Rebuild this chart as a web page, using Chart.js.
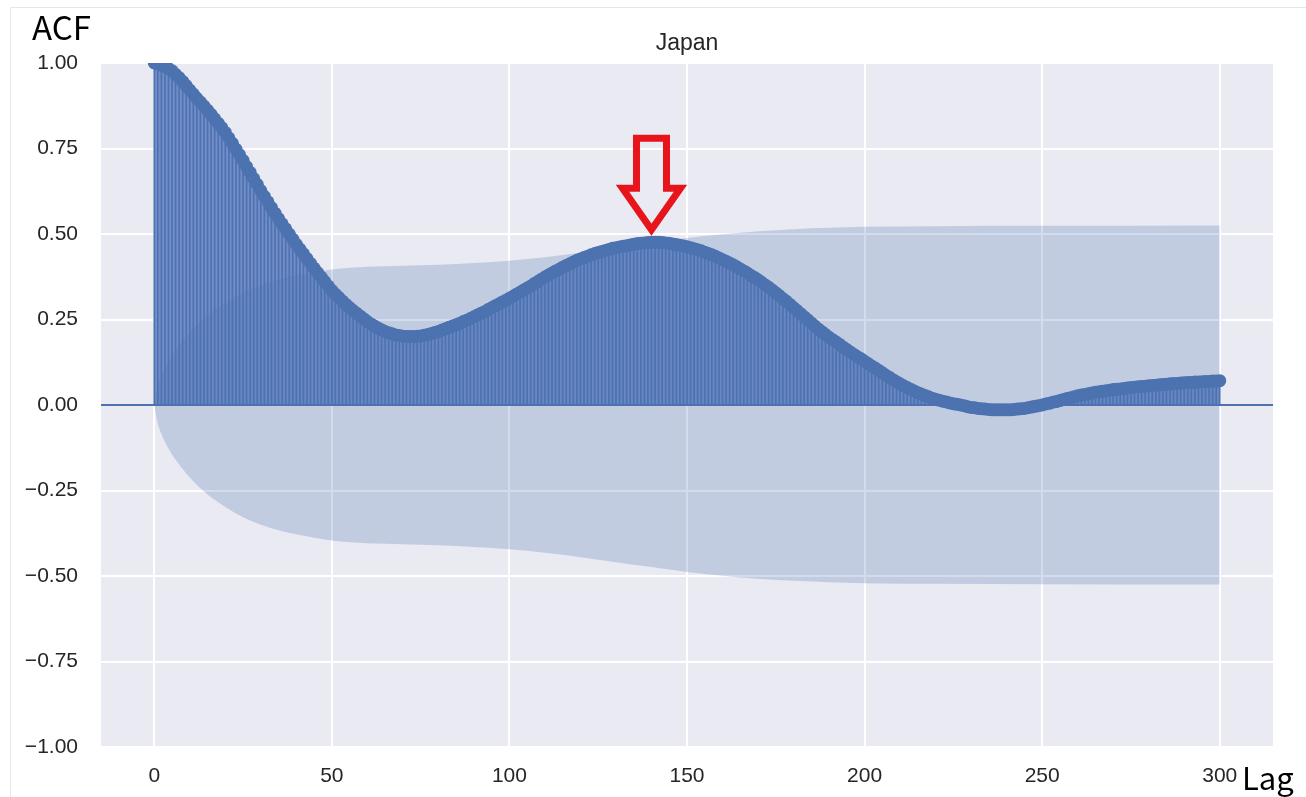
<!DOCTYPE html>
<html>
<head>
<meta charset="utf-8">
<script src="https://cdn.jsdelivr.net/npm/chart.js@4.4.1/dist/chart.umd.min.js"></script>
<style>
  html, body { margin: 0; padding: 0; background: #ffffff; }
  canvas { display: block; }
</style>
</head>
<body>
<canvas id="acf" width="1306" height="797"></canvas>
<script>
// Autocorrelation of the Japan series, lags 0..300
const lags = Array.from({ length: 301 }, (_, i) => i);

const acfValues = [
  1.000, 0.998, 0.994, 0.989, 0.984, 0.977,
  0.967, 0.957, 0.946, 0.934, 0.921,
  0.909, 0.897, 0.886, 0.874, 0.862,
  0.850, 0.837, 0.824, 0.811, 0.797,
  0.781, 0.765, 0.748, 0.732, 0.715,
  0.697, 0.680, 0.662, 0.645, 0.627,
  0.610, 0.594, 0.577, 0.561, 0.545,
  0.530, 0.515, 0.500, 0.485, 0.470,
  0.456, 0.442, 0.428, 0.414, 0.400,
  0.387, 0.374, 0.361, 0.348, 0.335,
  0.324, 0.314, 0.304, 0.294, 0.285,
  0.276, 0.268, 0.260, 0.252, 0.244,
  0.237, 0.231, 0.225, 0.220, 0.215,
  0.211, 0.208, 0.205, 0.203, 0.201,
  0.200, 0.200, 0.200, 0.201, 0.202,
  0.204, 0.206, 0.209, 0.212, 0.215,
  0.219, 0.223, 0.227, 0.231, 0.235,
  0.239, 0.244, 0.248, 0.253, 0.258,
  0.263, 0.268, 0.273, 0.279, 0.284,
  0.290, 0.295, 0.301, 0.306, 0.312,
  0.318, 0.324, 0.330, 0.336, 0.342,
  0.348, 0.355, 0.361, 0.368, 0.374,
  0.380, 0.386, 0.392, 0.397, 0.403,
  0.408, 0.413, 0.418, 0.423, 0.427,
  0.431, 0.435, 0.439, 0.443, 0.446,
  0.449, 0.452, 0.455, 0.458, 0.460,
  0.462, 0.464, 0.466, 0.468, 0.470,
  0.472, 0.473, 0.474, 0.475, 0.476,
  0.476, 0.476, 0.475, 0.474, 0.473,
  0.471, 0.469, 0.467, 0.465, 0.463,
  0.460, 0.457, 0.454, 0.451, 0.447,
  0.443, 0.439, 0.435, 0.430, 0.425,
  0.420, 0.415, 0.410, 0.404, 0.398,
  0.392, 0.386, 0.379, 0.373, 0.366,
  0.359, 0.351, 0.344, 0.336, 0.328,
  0.320, 0.311, 0.303, 0.294, 0.285,
  0.276, 0.267, 0.258, 0.249, 0.240,
  0.231, 0.222, 0.214, 0.206, 0.198,
  0.191, 0.184, 0.177, 0.169, 0.162,
  0.155, 0.148, 0.141, 0.135, 0.128,
  0.121, 0.114, 0.108, 0.101, 0.094,
  0.087, 0.081, 0.074, 0.068, 0.062,
  0.056, 0.051, 0.046, 0.041, 0.036,
  0.032, 0.028, 0.024, 0.020, 0.017,
  0.014, 0.011, 0.009, 0.006, 0.004,
  0.002, 0.000, -0.002, -0.005, -0.007,
  -0.008, -0.010, -0.011, -0.012, -0.013,
  -0.014, -0.014, -0.014, -0.014, -0.014,
  -0.014, -0.013, -0.012, -0.011, -0.010,
  -0.008, -0.006, -0.004, -0.002, 0.000,
  0.003, 0.005, 0.008, 0.010, 0.013,
  0.016, 0.019, 0.021, 0.024, 0.027,
  0.029, 0.031, 0.033, 0.035, 0.037,
  0.039, 0.040, 0.042, 0.043, 0.045,
  0.046, 0.047, 0.048, 0.050, 0.051,
  0.052, 0.053, 0.054, 0.055, 0.056,
  0.057, 0.058, 0.059, 0.060, 0.061,
  0.062, 0.063, 0.063, 0.064, 0.065,
  0.066, 0.066, 0.067, 0.067, 0.068,
  0.069, 0.069, 0.070, 0.070, 0.071
];

// 95% confidence band (Bartlett), centred on zero
const bandLags  = [0, 1, 2, 3, 4, 5, 6, 8, 10, 12, 15, 20, 25, 30, 35, 40, 45, 50, 55, 60,
                   70, 80, 90, 100, 110, 120, 130, 140, 150, 160, 170, 180, 190, 200, 220, 250, 300];
const bandUpper = [0, 0.055, 0.085, 0.108, 0.127, 0.145, 0.160, 0.187, 0.212, 0.234, 0.262, 0.298,
                   0.328, 0.350, 0.366, 0.378, 0.388, 0.396, 0.401, 0.404, 0.407, 0.410, 0.415,
                   0.422, 0.432, 0.445, 0.460, 0.474, 0.488, 0.499, 0.508, 0.514, 0.518, 0.521,
                   0.523, 0.524, 0.525];
const bandLower = [0, -0.055, -0.085, -0.108, -0.127, -0.145, -0.160, -0.187, -0.212, -0.234, -0.262, -0.298,
                   -0.328, -0.350, -0.366, -0.378, -0.388, -0.396, -0.401, -0.404, -0.407, -0.410, -0.415,
                   -0.422, -0.432, -0.445, -0.460, -0.474, -0.488, -0.499, -0.508, -0.514, -0.518, -0.521,
                   -0.523, -0.524, -0.525];

const xTickValues = [0, 50, 100, 150, 200, 250, 300];
const yTickValues = [-1.00, -0.75, -0.50, -0.25, 0.00, 0.25, 0.50, 0.75, 1.00];
const xLimits = [-15, 315];
const zeroLine = [0, 0];

const chartTitle = 'Japan';
const yAxisLabel = 'ACF';
const xAxisLabel = 'Lag';

const BLUE = '#4c72b0';
const MARKER_RADIUS = 6.5;

const acfPoints = lags.map((l, i) => ({ x: l, y: acfValues[i] }));

// highest point after the first trough: the seasonal peak the arrow marks
function secondPeakIndex(values) {
  let i = 1;
  while (i < values.length - 1 && values[i + 1] <= values[i]) i++;
  let best = i;
  for (let j = i; j < values.length; j++) if (values[j] > values[best]) best = j;
  return best;
}

const backdrop = {
  id: 'backdrop',
  beforeDraw(chart) {
    const { ctx, chartArea: a } = chart;
    ctx.save();
    ctx.fillStyle = '#ffffff';
    ctx.fillRect(0, 0, chart.width, chart.height);
    ctx.fillStyle = '#eaeaf2';
    ctx.fillRect(a.left, a.top, a.right - a.left, a.bottom - a.top);
    ctx.restore();
  }
};

const labels = {
  id: 'labels',
  afterDraw(chart) {
    const { ctx, chartArea: a, scales } = chart;
    ctx.save();
    // faint frame on the top and left edge
    ctx.strokeStyle = '#e6e6e6';
    ctx.lineWidth = 1;
    ctx.beginPath();
    ctx.moveTo(10.5, chart.height);
    ctx.lineTo(10.5, 7.5);
    ctx.lineTo(chart.width, 7.5);
    ctx.stroke();

    ctx.fillStyle = '#262626';
    ctx.font = '23px "Liberation Sans", Arial, sans-serif';
    ctx.textAlign = 'center';
    ctx.textBaseline = 'alphabetic';
    ctx.fillText(chartTitle, (a.left + a.right) / 2, 50);

    ctx.fillStyle = '#000000';
    ctx.textAlign = 'left';
    ctx.font = '33px "Noto Sans CJK JP", "Noto Sans", sans-serif';
    ctx.fillText(yAxisLabel, 32, 40);
    ctx.font = '31px "Noto Sans CJK JP", "Noto Sans", sans-serif';
    ctx.fillText(xAxisLabel, 1242, 790);

    // hollow arrow pointing at the seasonal peak
    const peak = secondPeakIndex(acfValues);
    const tx = scales.x.getPixelForValue(lags[peak]);
    const tipY = scales.y.getPixelForValue(acfValues[peak]) - MARKER_RADIUS - 6;
    ctx.strokeStyle = '#e8141c';
    ctx.lineWidth = 7;
    ctx.lineJoin = 'miter';
    ctx.beginPath();
    ctx.moveTo(tx, tipY);
    ctx.lineTo(tx - 29, tipY - 41.5);
    ctx.lineTo(tx - 15, tipY - 41.5);
    ctx.lineTo(tx - 15, tipY - 91.5);
    ctx.lineTo(tx + 15, tipY - 91.5);
    ctx.lineTo(tx + 15, tipY - 41.5);
    ctx.lineTo(tx + 29, tipY - 41.5);
    ctx.closePath();
    ctx.stroke();
    ctx.restore();
  }
};

const tickFont = { family: '"Liberation Sans", Arial, sans-serif', size: 21 };

new Chart(document.getElementById('acf'), {
  type: 'line',
  data: {
    datasets: [
      {
        // shaded area under the stems
        type: 'line',
        data: acfPoints,
        fill: 'origin',
        backgroundColor: '#728dc8',
        borderWidth: 0,
        pointRadius: 0,
        tension: 0,
        order: 6
      },
      {
        // stems
        type: 'bar',
        data: acfPoints,
        backgroundColor: BLUE,
        barThickness: 1,
        grouped: false,
        order: 5
      },
      {
        type: 'line',
        data: xLimits.map((x, i) => ({ x, y: zeroLine[i] })),
        borderColor: BLUE,
        borderWidth: 2,
        pointRadius: 0,
        fill: false,
        order: 4
      },
      {
        // markers
        type: 'line',
        data: acfPoints,
        showLine: false,
        pointRadius: MARKER_RADIUS,
        pointBackgroundColor: BLUE,
        pointBorderWidth: 0,
        clip: 0,
        order: 3
      },
      {
        type: 'line',
        data: bandLags.map((l, i) => ({ x: l, y: bandUpper[i] })),
        fill: '+1',
        backgroundColor: 'rgba(76, 114, 176, 0.25)',
        borderWidth: 0,
        pointRadius: 0,
        cubicInterpolationMode: 'monotone',
        order: 2
      },
      {
        type: 'line',
        data: bandLags.map((l, i) => ({ x: l, y: bandLower[i] })),
        fill: false,
        borderWidth: 0,
        pointRadius: 0,
        cubicInterpolationMode: 'monotone',
        order: 1
      }
    ]
  },
  options: {
    responsive: false,
    animation: false,
    devicePixelRatio: 1,
    events: [],
    layout: { padding: { left: 0, right: 33, top: 63, bottom: 0 } },
    plugins: { legend: { display: false }, tooltip: { enabled: false }, title: { display: false } },
    scales: {
      x: {
        type: 'linear',
        min: xLimits[0],
        max: xLimits[1],
        offset: false,
        afterBuildTicks: s => { s.ticks = xTickValues.map(v => ({ value: v })); },
        afterFit: s => { s.height = 50; },
        ticks: { font: tickFont, color: '#262626', padding: 17, maxRotation: 0, callback: v => String(v) },
        grid: { color: '#ffffff', lineWidth: 2, drawTicks: false, offset: false },
        border: { display: false }
      },
      y: {
        type: 'linear',
        min: -1,
        max: 1,
        afterBuildTicks: s => { s.ticks = yTickValues.map(v => ({ value: v })); },
        afterFit: s => { s.width = 101; },
        ticks: {
          font: tickFont,
          color: '#262626',
          padding: 23,
          callback: v => (v < 0 ? '\u2212' : '') + Math.abs(v).toFixed(2)
        },
        grid: { color: '#ffffff', lineWidth: 2, drawTicks: false },
        border: { display: false }
      }
    }
  },
  plugins: [backdrop, labels]
});
</script>
</body>
</html>
